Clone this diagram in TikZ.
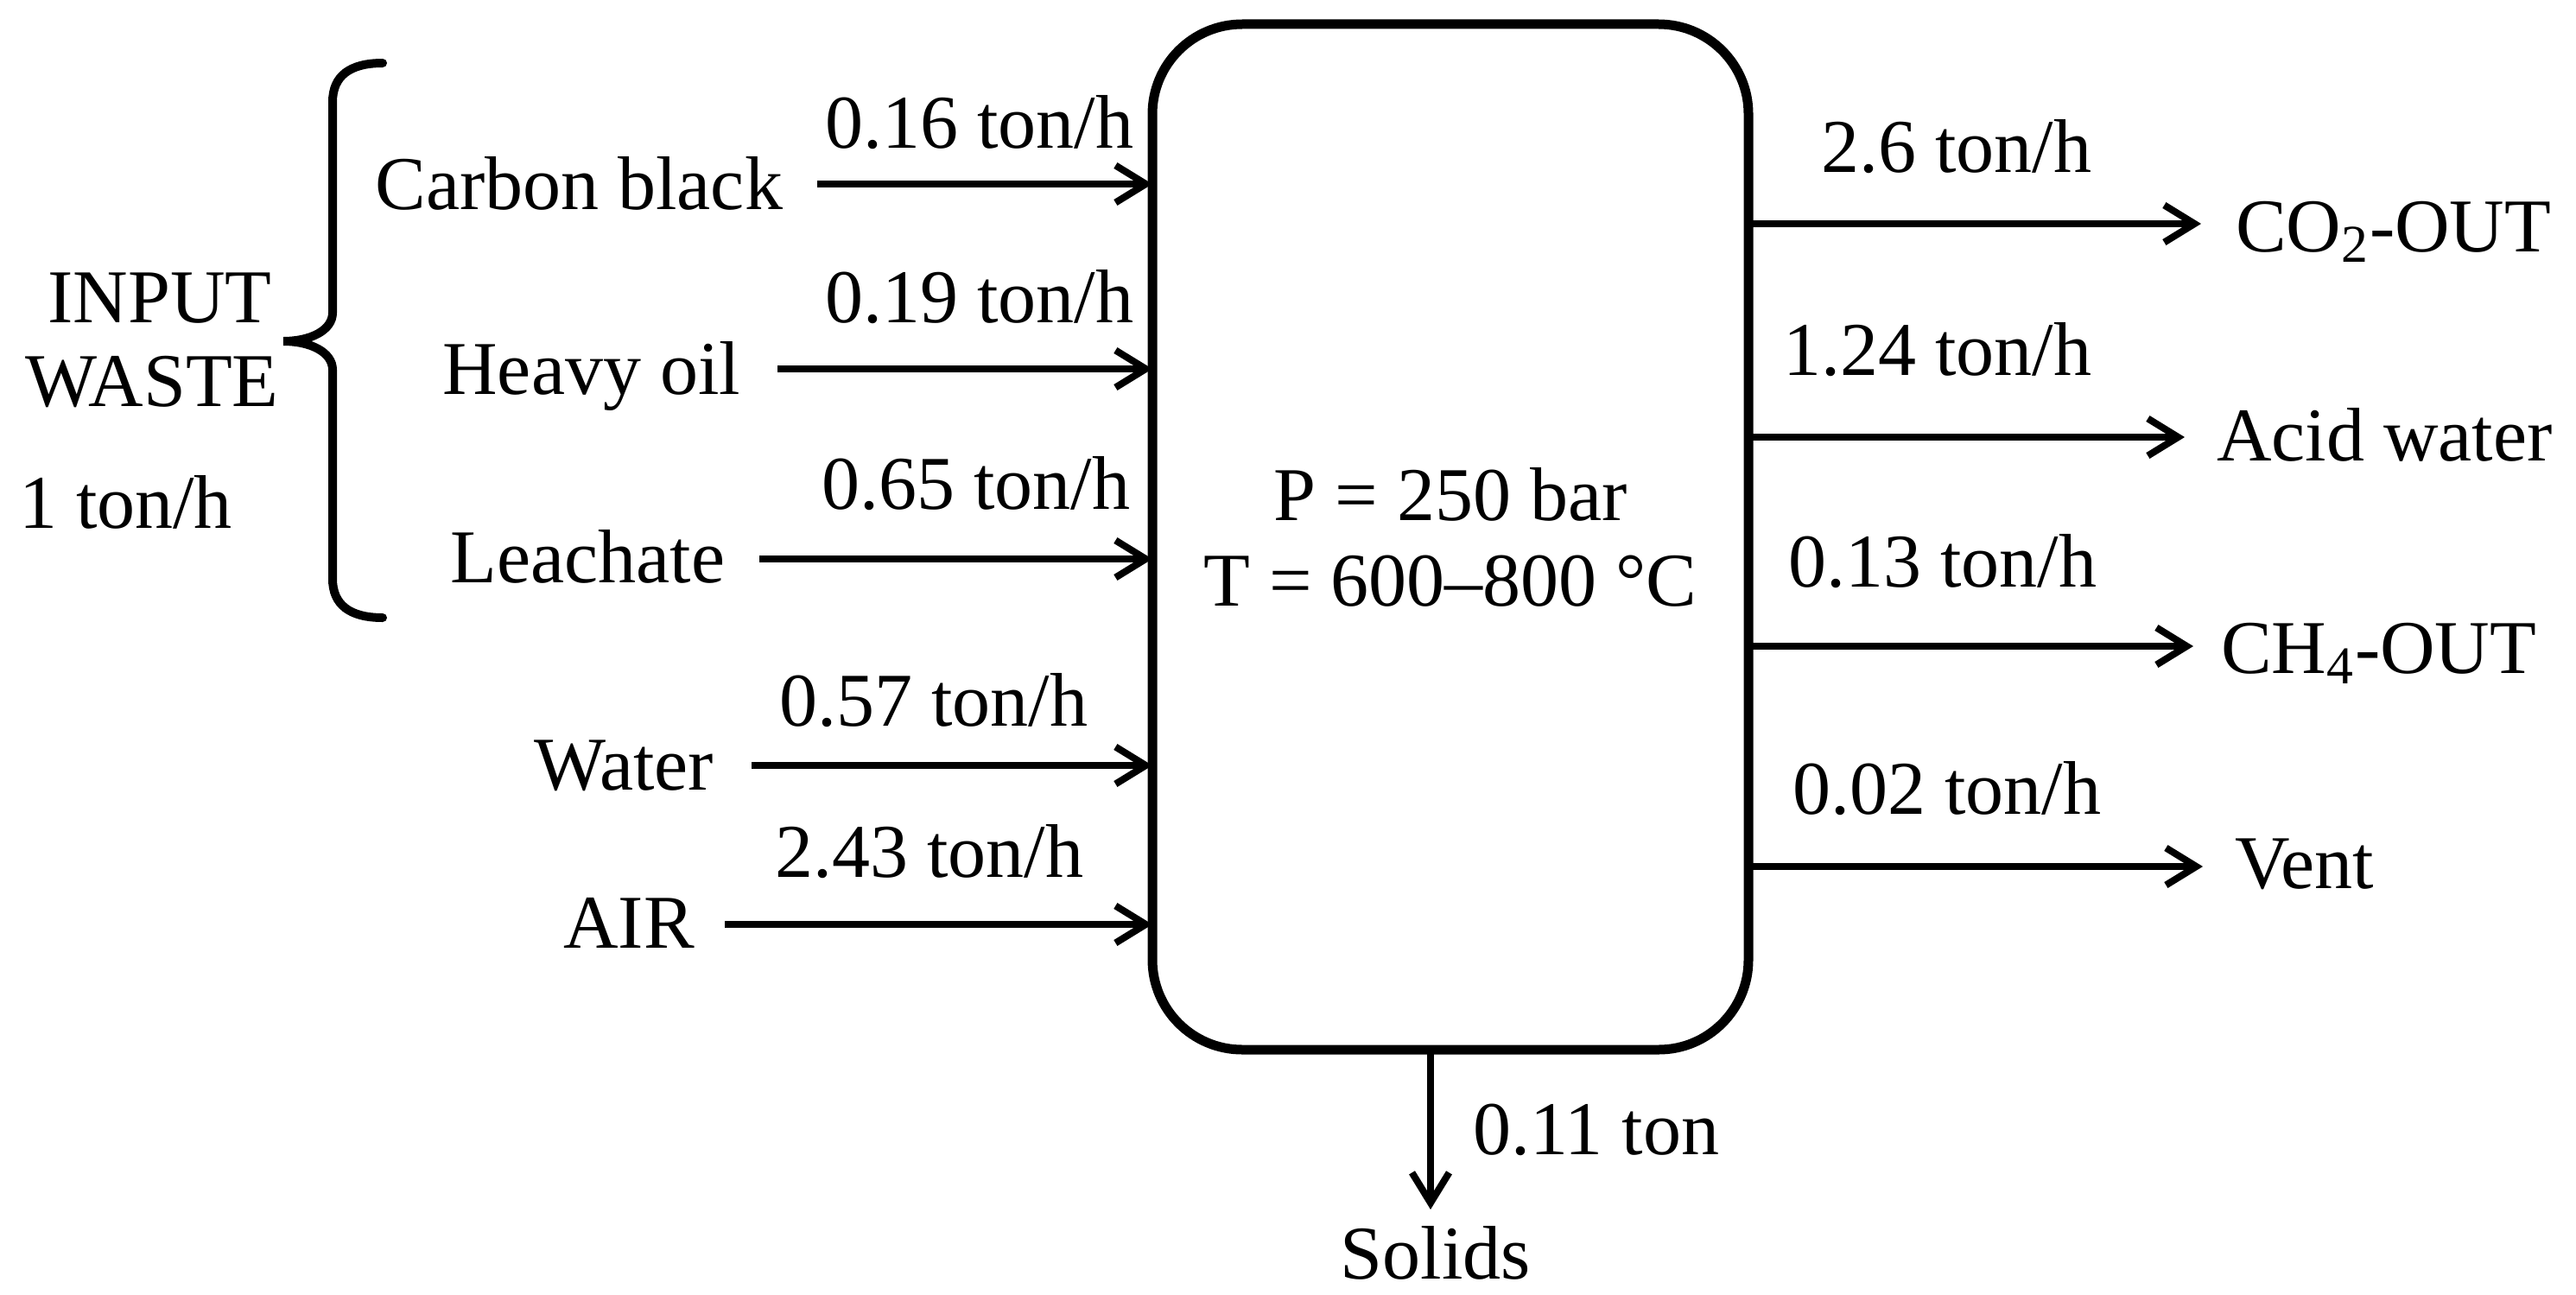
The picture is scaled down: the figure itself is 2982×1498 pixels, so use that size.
\documentclass[tikz,border=0pt]{standalone}
\usepackage{fontspec}
\setmainfont{Liberation Serif}
\usetikzlibrary{arrows.meta}
\begin{document}
\begin{tikzpicture}[x=0.25pt,y=-0.25pt,
  every node/.style={font=\fontsize{22}{24.75}\selectfont, inner sep=0pt, outer sep=0pt},
  flow/.style={line width=2pt, -{Straight Barb[length=8.75pt,width=10.75pt]}},
  reactorbox/.style={draw, line width=2.75pt, rounded corners=26pt, align=center,
    minimum width=172.5pt, minimum height=296.75pt},
  bracepath/.style={line width=2.5pt, line cap=round}]
\fill[white] (0,0) rectangle (2982,1498);
\useasboundingbox (0,0) rectangle (2982,1498);

% reactor
\node[reactorbox] (reactor) at (1679,621.5) {P = 250 bar\\T = 600–800 °C};

% left group label and brace
\node[anchor=base] (input) at (185,373) {INPUT};
\node[anchor=base] (waste) at (176,470) {WASTE};
\node[anchor=base west] (total) at (22,611) {1 ton/h};
\draw[bracepath] (443,73) .. controls (405,73) and (385,88) .. (385,118) -- (385,362)
  .. controls (385,382) and (360,395) .. (328,395)
  .. controls (360,395) and (385,408) .. (385,428) -- (385,670)
  .. controls (385,700) and (405,715) .. (443,715);

% inputs
\node[anchor=base east] (cb) at (906,242) {Carbon black};
\node[anchor=base east] (ho) at (857,456) {Heavy oil};
\node[anchor=base east] (le) at (839,674) {Leachate};
\node[anchor=base east] (wa) at (826,914) {Water};
\node[anchor=base east] (air) at (804,1097) {AIR};
\coordinate (cbs) at (946,213);
\coordinate (hos) at (900,427);
\coordinate (les) at (879,647);
\coordinate (was) at (870,886);
\coordinate (airs) at (839,1070);
\draw[flow] (cbs) -- (cbs -| reactor.west);
\draw[flow] (hos) -- (hos -| reactor.west);
\draw[flow] (les) -- (les -| reactor.west);
\draw[flow] (was) -- (was -| reactor.west);
\draw[flow] (airs) -- (airs -| reactor.west);
\node[anchor=base east] (fcb) at (1312,172) {0.16 ton/h};
\node[anchor=base east] (fho) at (1312,373) {0.19 ton/h};
\node[anchor=base east] (fle) at (1308,589) {0.65 ton/h};
\node[anchor=base east] (fwa) at (1259,840) {0.57 ton/h};
\node[anchor=base east] (fair) at (1254,1015) {2.43 ton/h};

% outputs
\coordinate (co2t) at (2548,259);
\coordinate (acidt) at (2529,506);
\coordinate (ch4t) at (2539,748);
\coordinate (ventt) at (2550,1003);
\draw[flow] (co2t -| reactor.east) -- (co2t);
\draw[flow] (acidt -| reactor.east) -- (acidt);
\draw[flow] (ch4t -| reactor.east) -- (ch4t);
\draw[flow] (ventt -| reactor.east) -- (ventt);
\node[anchor=base west] (co2) at (2588,291) {CO\textsubscript{2}-OUT};
\node[anchor=base west] (acid) at (2566,533) {Acid water};
\node[anchor=base west] (ch4) at (2571,779) {CH\textsubscript{4}-OUT};
\node[anchor=base west] (vent) at (2587,1028) {Vent};
\node[anchor=base east] (fco2) at (2421,199) {2.6 ton/h};
\node[anchor=base east] (facid) at (2421,434) {1.24 ton/h};
\node[anchor=base east] (fch4) at (2427,679) {0.13 ton/h};
\node[anchor=base east] (fvent) at (2432,942) {0.02 ton/h};

% solids
\coordinate (solt) at (1656,1400);
\draw[flow] (solt |- reactor.south) -- (solt);
\node[anchor=base west] (fsol) at (1705,1336) {0.11 ton};
\node[anchor=base] (sol) at (1662,1480) {Solids};
\end{tikzpicture}
\end{document}
